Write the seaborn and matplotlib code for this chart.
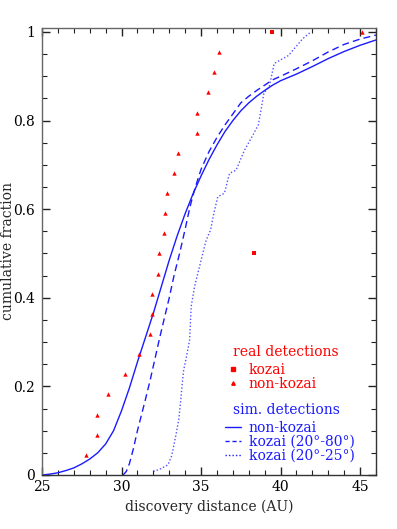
import numpy as np
import pandas as pd
import matplotlib
matplotlib.use("Agg")
import matplotlib.pyplot as plt
import seaborn as sns
from matplotlib.lines import Line2D
from matplotlib.ticker import MultipleLocator

# ---- data ----
kozai_x = [38.35, 39.45]
kozai_y = [0.5, 1.0]

nonkozai_x = [27.76, 28.45, 28.45, 29.14, 30.2, 31.08, 31.77, 31.91, 31.94, 32.29, 32.34,
              32.67, 32.76, 32.88, 33.29, 33.55, 34.72, 34.76, 35.45, 35.8, 36.14, 45.15]
nonkozai_y = [k / 22 for k in range(1, 23)]

solid_x = [25.0, 25.5, 26.0, 26.5, 27.0, 27.5, 28.0, 28.5, 29.0, 29.5, 30.0, 30.5, 31.0,
           31.5, 32.0, 32.5, 33.0, 33.5, 34.0, 34.5, 35.0, 35.5, 36.0, 36.5, 37.0, 37.5,
           38.0, 38.5, 39.0, 39.5, 40.0, 41.0, 42.0, 43.0, 44.0, 45.0, 46.0]
solid_y = [0.0, 0.002, 0.005, 0.01, 0.016, 0.025, 0.036, 0.05, 0.07, 0.1, 0.145, 0.197,
           0.255, 0.31, 0.365, 0.425, 0.485, 0.54, 0.59, 0.635, 0.675, 0.712, 0.745, 0.775,
           0.8, 0.822, 0.84, 0.855, 0.868, 0.88, 0.89, 0.905, 0.922, 0.94, 0.956, 0.97, 0.982]

dashed_x = [30.1, 30.3, 30.5, 30.75, 31.0, 31.25, 31.5, 31.8, 32.1, 32.4, 32.7, 33.0, 33.3,
            33.65, 34.0, 34.3, 34.6, 35.0, 35.5, 36.0, 36.5, 37.0, 37.5, 38.0, 38.5, 39.0,
            39.5, 40.0, 41.0, 42.0, 43.0, 44.0, 45.0, 46.0]
dashed_y = [0.0, 0.008, 0.026, 0.06, 0.1, 0.135, 0.17, 0.214, 0.262, 0.31, 0.355, 0.40,
            0.45, 0.50, 0.555, 0.605, 0.645, 0.69, 0.73, 0.762, 0.79, 0.815, 0.84, 0.855,
            0.868, 0.88, 0.892, 0.9, 0.917, 0.935, 0.955, 0.972, 0.984, 0.993]

dotted_x = [32.0, 32.4, 32.92, 33.13, 33.23, 33.44, 33.6, 33.7, 33.8, 33.9, 34.1, 34.28, 34.38,
            34.59, 34.9, 35.32, 35.6, 35.8, 36.05, 36.47, 36.79, 37.2, 37.73, 38.15, 38.6,
            38.8, 38.95, 39.29, 39.6, 40.0, 40.5, 40.97, 41.4, 41.9]
dotted_y = [0.008, 0.013, 0.023, 0.041, 0.056, 0.094, 0.125, 0.16, 0.2, 0.235, 0.27, 0.305,
            0.38, 0.425, 0.47, 0.53, 0.553, 0.59, 0.628, 0.636, 0.681, 0.688, 0.733, 0.76,
            0.79, 0.83, 0.862, 0.877, 0.929, 0.937, 0.947, 0.967, 0.985, 1.0]

sns.set_theme(style="ticks")
plt.rcParams['font.family'] = ['DejaVu Serif']
plt.rcParams['font.size'] = 10

fig = plt.figure(figsize=(3.97, 5.29), dpi=100)
ax = fig.add_axes([42/397, 54/529, (376-42)/397, (475-28)/529])

blue = '#1a1aff'
red = '#ff0000'

sns.lineplot(x=solid_x, y=solid_y, ax=ax, color=blue, lw=1.0, estimator=None, sort=False)
sns.lineplot(x=dashed_x, y=dashed_y, ax=ax, color=blue, lw=1.0, estimator=None, sort=False,
             linestyle=(0, (5, 3)))
sns.lineplot(x=dotted_x, y=dotted_y, ax=ax, color=blue, lw=1.0, estimator=None, sort=False,
             linestyle=(0, (1, 1.5)), alpha=0.75)
sns.scatterplot(x=nonkozai_x, y=nonkozai_y, ax=ax, color=red, marker='^', s=10,
                linewidth=0, zorder=5)
sns.scatterplot(x=kozai_x, y=kozai_y, ax=ax, color=red, marker='s', s=9,
                linewidth=0, zorder=5)

ax.set_xlim(25, 46)
ax.set_ylim(0, 1.009)
ax.xaxis.set_major_locator(MultipleLocator(5))
ax.xaxis.set_minor_locator(MultipleLocator(1))
ax.yaxis.set_minor_locator(MultipleLocator(0.05))
ax.set_yticks([0, 0.2, 0.4, 0.6, 0.8, 1.0])
ax.set_yticklabels(['0', '0.2', '0.4', '0.6', '0.8', '1'])
ax.tick_params(which='both', direction='in', top=True, right=True, colors='#222222',
               labelcolor='black', labelsize=10)
ax.tick_params(which='major', length=6, width=1)
ax.tick_params(which='minor', length=3.5, width=0.8)
ax.tick_params(axis='y', pad=5)
for s in ax.spines.values():
    s.set_color('#333333')
    s.set_linewidth(1.0)
ax.spines['left'].set_color('#666666')
ax.spines['top'].set_color('#666666')

ax.set_xlabel('discovery distance (AU)', fontsize=10, labelpad=4)
ax.set_ylabel('cumulative fraction', fontsize=10)
ax.yaxis.set_label_coords(-0.082, 0.5)

# legend titles
fig.text(233/397, 1-352/529, 'real detections', color=red, fontsize=10,
         ha='left', va='center')
fig.text(233/397, 1-410/529, 'sim. detections', color=blue, fontsize=10,
         ha='left', va='center')

h1 = [Line2D([], [], color=red, marker='s', ms=2.5, ls='none'),
      Line2D([], [], color=red, marker='^', ms=2.5, ls='none')]
leg1 = ax.legend(h1, ['kozai', 'non-kozai'], frameon=False,
                 loc='upper left', bbox_to_anchor=(225/397, 1-363/529),
                 bbox_transform=fig.transFigure, handlelength=1.15, handletextpad=0.55,
                 labelspacing=-0.02, borderpad=0, borderaxespad=0, fontsize=10,
                 labelcolor=red)
ax.add_artist(leg1)

h2 = [Line2D([], [], color=blue, lw=1.0),
      Line2D([], [], color=blue, lw=1.0, ls=(0, (3, 2))),
      Line2D([], [], color=blue, lw=1.0, ls=(0, (1, 1.5)))]
leg2 = ax.legend(h2, ['non-kozai', 'kozai (20\u00b0-80\u00b0)', 'kozai (20\u00b0-25\u00b0)'],
                 frameon=False,
                 loc='upper left', bbox_to_anchor=(225/397, 1-421/529),
                 bbox_transform=fig.transFigure, handlelength=1.15, handletextpad=0.55,
                 labelspacing=-0.02, borderpad=0, borderaxespad=0, fontsize=10,
                 labelcolor=blue)

fig.savefig('out.png', dpi=100)
